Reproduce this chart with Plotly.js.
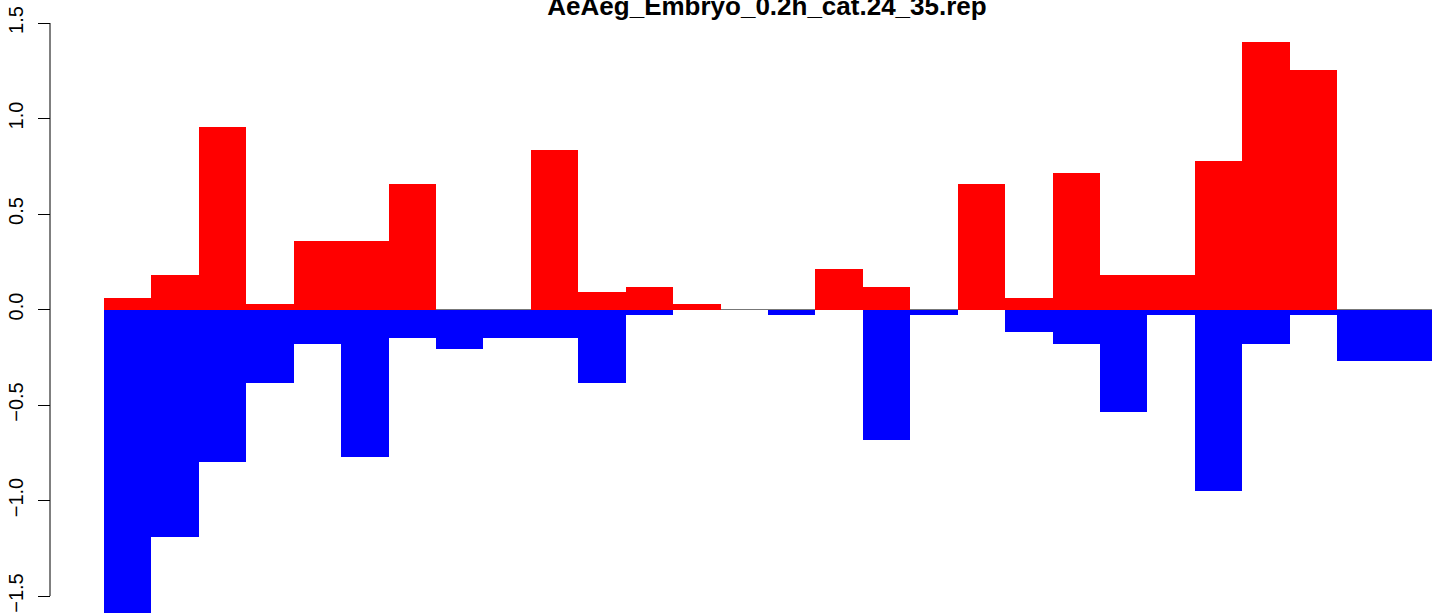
<!DOCTYPE html>
<html>
<head>
<meta charset="utf-8">
<script src="https://cdn.plot.ly/plotly-3.0.1.min.js"></script>
<style>
  html, body { margin: 0; padding: 0; background: #ffffff; }
  #chart { width: 1436px; height: 613px; }
</style>
</head>
<body>
<div id="chart"></div>
<script>
// Categories (bar index)
const categories = ["1","2","3","4","5","6","7","8","9","10","11","12","13","14",
                    "15","16","17","18","19","20","21","22","23","24","25","26","27","28"];
// Positive series (red)
const upValues = [0.06, 0.18, 0.955, 0.03, 0.359, 0.359, 0.657, 0, 0, 0.835, 0.092, 0.118, 0.03, 0,
                  0, 0.212, 0.118, 0, 0.657, 0.06, 0.715, 0.18, 0.18, 0.777, 1.40, 1.254, 0, 0];
// Negative series (blue)
const downValues = [-1.62, -1.19, -0.80, -0.383, -0.18, -0.77, -0.148, -0.205, -0.148, -0.148, -0.383, -0.029, 0, 0,
                    -0.029, 0, -0.683, -0.029, 0, -0.118, -0.179, -0.537, -0.029, -0.95, -0.179, -0.029, -0.27, -0.27];
// Y tick values and labels
const yTickVals = [-1.5, -1.0, -0.5, 0.0, 0.5, 1.0, 1.5];
const yTickText = ["\u22121.5", "\u22121.0", "\u22120.5", "0.0", "0.5", "1.0", "1.5"];
const chartTitle = "AeAeg_Embryo_0.2h_cat.24_35.rep";

const W = 1436, H = 613;
const FONT = "Liberation Sans, Arial, Helvetica, sans-serif";

const traces = [
  { type: "bar", x: categories, y: upValues, marker: { color: "#ff0000", line: { width: 0 } },
    hoverinfo: "x+y", showlegend: false },
  { type: "bar", x: categories, y: downValues, marker: { color: "#0000ff", line: { width: 0 } },
    hoverinfo: "x+y", showlegend: false }
];

const axisX = 50 / W;

const layout = {
  width: W, height: H,
  margin: { l: 0, r: 0, t: 0, b: 0, pad: 0 },
  paper_bgcolor: "#ffffff",
  plot_bgcolor: "#ffffff",
  barmode: "overlay",
  bargap: 0,
  showlegend: false,
  font: { family: FONT, color: "#000000" },
  title: {
    text: "<b>" + chartTitle + "</b>",
    font: { family: FONT, size: 26, color: "#000000" },
    xref: "container", x: 767 / W, xanchor: "center",
    yref: "container", y: 1 - 6 / H, yanchor: "middle"
  },
  xaxis: {
    type: "category",
    domain: [104 / W, 1432 / W],
    range: [-0.5, 27.5],
    showticklabels: false, ticks: "", showgrid: false, zeroline: false, showline: false,
    fixedrange: true
  },
  yaxis: {
    range: [-1.589, 1.6204],
    anchor: "free", position: axisX, side: "left",
    tickmode: "array", tickvals: yTickVals, ticktext: yTickText,
    tickangle: -90,
    ticks: "outside", ticklen: 12, tickwidth: 1, tickcolor: "#000000",
    ticklabelstandoff: 7,
    tickfont: { family: FONT, size: 20, color: "#000000" },
    showgrid: false, showline: false,
    zeroline: true, zerolinecolor: "#777777", zerolinewidth: 1,
    fixedrange: true
  },
  shapes: [
    { type: "line", xref: "paper", yref: "y", x0: axisX, x1: axisX,
      y0: yTickVals[0], y1: yTickVals[yTickVals.length - 1],
      line: { color: "#000000", width: 1 } }
  ]
};

Plotly.newPlot("chart", traces, layout, { displayModeBar: false, staticPlot: true });
</script>
</body>
</html>
